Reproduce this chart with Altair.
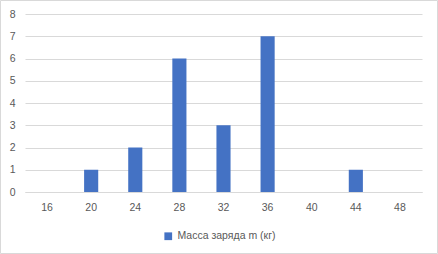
import altair as alt
import pandas as pd

categories = ["16", "20", "24", "28", "32", "36", "40", "44", "48"]
values = [0, 1, 2, 6, 3, 7, 0, 1, 0]
series_name = "Масса заряда m (кг)"

df = pd.DataFrame({"cat": categories, "val": values, "series": [series_name] * len(categories)})

FONT = "Liberation Sans"
TXT = "#595959"

bars = alt.Chart(df).mark_bar(color="#4472C4").encode(
    x=alt.X("cat:N", sort=categories,
            scale=alt.Scale(paddingInner=0.68, paddingOuter=0.34),
            axis=alt.Axis(title=None, labelAngle=0, domainColor="#d9d9d9", ticks=False,
                          labelColor=TXT, labelFont=FONT, labelFontSize=10.5, labelPadding=10)),
    y=alt.Y("val:Q", scale=alt.Scale(domain=[0, 8]),
            axis=alt.Axis(title=None, values=list(range(9)), domain=False, ticks=False,
                          gridColor="#d9d9d9", labelColor=TXT, labelFont=FONT,
                          labelFontSize=10.5, labelPadding=10)),
    color=alt.Color("series:N", scale=alt.Scale(range=["#4472C4"]),
                    legend=alt.Legend(title=None, orient="none", legendX=138, legendY=217,
                                      symbolType="square", symbolSize=60,
                                      labelColor=TXT, labelFont=FONT, labelFontSize=10.5)),
)

border = alt.Chart(alt.Data(values=[{"a": 1}])).mark_rect(
    fill=None, stroke="#d9d9d9", strokeWidth=1
).encode(
    x=alt.value(-24.5), x2=alt.value(412.5), y=alt.value(-13.5), y2=alt.value(239.5)
)

chart = alt.layer(bars, border).properties(
    width=397, height=178,
    autosize=alt.AutoSizeParams(type="none"),
    padding={"left": 25, "top": 14, "right": 16, "bottom": 62},
    background="white",
).configure_view(stroke=None)

chart.save("out.html", embed_options={"renderer": "svg", "actions": False})
